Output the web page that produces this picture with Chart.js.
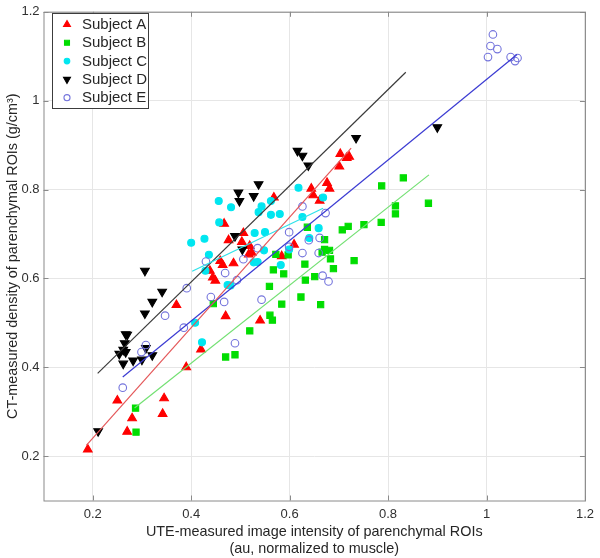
<!DOCTYPE html>
<html lang="en">
<head>
  <meta charset="UTF-8" />
  <title>CT density vs UTE intensity</title>
  <script src="https://cdn.jsdelivr.net/npm/chart.js"></script>
  <style>
    html, body { margin: 0; padding: 0; background: #fff; }
    #wrap { width: 600px; height: 558px; position: relative; }
  </style>
</head>
<body>
  <div id="wrap"><canvas id="grafico"></canvas></div>

  <script>
    // === DATA ===
    const subjectNames = ["Subject A", "Subject B", "Subject C", "Subject D", "Subject E"];
    const xTicks = [0.2, 0.4, 0.6, 0.8, 1, 1.2];
    const yTicks = [0.2, 0.4, 0.6, 0.8, 1, 1.2];

    const subjectA = [
      [0.19, 0.215], [0.25, 0.325], [0.27, 0.255], [0.28, 0.285], [0.345, 0.33], [0.342, 0.295],
      [0.39, 0.40], [0.42, 0.44], [0.37, 0.54], [0.47, 0.515], [0.54, 0.505], [0.438, 0.617],
      [0.444, 0.602], [0.449, 0.595], [0.459, 0.639], [0.464, 0.63], [0.486, 0.634], [0.467, 0.723],
      [0.476, 0.686], [0.506, 0.702], [0.503, 0.682], [0.519, 0.673], [0.523, 0.658], [0.517, 0.654],
      [0.568, 0.782], [0.584, 0.65], [0.609, 0.676], [0.644, 0.802], [0.648, 0.787], [0.661, 0.775],
      [0.676, 0.815], [0.681, 0.802], [0.703, 0.88], [0.701, 0.852], [0.721, 0.874], [0.716, 0.871]
    ];
    const subjectB = [
      [0.287, 0.308], [0.288, 0.254], [0.47, 0.423], [0.489, 0.428], [0.519, 0.482], [0.56, 0.517],
      [0.565, 0.506], [0.584, 0.542], [0.559, 0.582], [0.567, 0.619], [0.588, 0.61], [0.623, 0.558],
      [0.632, 0.596], [0.651, 0.604], [0.663, 0.541], [0.689, 0.622], [0.631, 0.632], [0.445, 0.543],
      [0.787, 0.808], [0.831, 0.826], [0.882, 0.769], [0.815, 0.763], [0.815, 0.745], [0.786, 0.726],
      [0.751, 0.721], [0.719, 0.717], [0.707, 0.709], [0.731, 0.64], [0.683, 0.644], [0.681, 0.663],
      [0.671, 0.665], [0.666, 0.659], [0.671, 0.687], [0.636, 0.715], [0.572, 0.654], [0.597, 0.653]
    ];
    const subjectC = [
      [0.422, 0.456], [0.408, 0.5], [0.474, 0.585], [0.48, 0.584], [0.527, 0.636], [0.535, 0.637],
      [0.582, 0.63], [0.456, 0.774], [0.481, 0.76], [0.457, 0.726], [0.427, 0.689], [0.4, 0.68],
      [0.436, 0.653], [0.429, 0.617], [0.529, 0.702], [0.55, 0.704], [0.548, 0.663], [0.562, 0.743],
      [0.58, 0.745], [0.537, 0.749], [0.543, 0.762], [0.562, 0.774], [0.618, 0.804], [0.626, 0.738],
      [0.659, 0.713], [0.668, 0.782], [0.64, 0.691], [0.599, 0.665]
    ];
    const subjectD = [
      [0.211, 0.256], [0.267, 0.474], [0.265, 0.454], [0.262, 0.439], [0.254, 0.43], [0.267, 0.434],
      [0.262, 0.408], [0.282, 0.415], [0.3, 0.417], [0.308, 0.443], [0.321, 0.427], [0.306, 0.617],
      [0.341, 0.57], [0.321, 0.547], [0.306, 0.521], [0.27, 0.473], [0.496, 0.793], [0.498, 0.774],
      [0.537, 0.812], [0.527, 0.785], [0.489, 0.695], [0.504, 0.665], [0.616, 0.887], [0.626, 0.876],
      [0.638, 0.854], [0.735, 0.916], [0.9, 0.94]
    ];
    const subjectE = [
      [0.261, 0.354], [0.299, 0.434], [0.308, 0.45], [0.489, 0.454], [0.347, 0.516], [0.385, 0.489],
      [0.391, 0.578], [0.44, 0.558], [0.467, 0.547], [0.543, 0.552], [0.493, 0.596], [0.469, 0.612],
      [0.43, 0.638], [0.506, 0.643], [0.535, 0.668], [0.599, 0.704], [0.626, 0.762], [0.673, 0.747],
      [0.661, 0.691], [0.639, 0.686], [0.626, 0.657], [0.659, 0.657], [0.667, 0.606], [0.679, 0.593],
      [0.599, 0.671], [1.013, 1.149], [1.008, 1.123], [1.022, 1.116], [1.003, 1.098], [1.049, 1.098],
      [1.063, 1.096], [1.058, 1.089]
    ];

    // fitted lines: end points
    const fitA = [[0.187, 0.224], [0.725, 0.893]];
    const fitB = [[0.285, 0.308], [0.883, 0.833]];
    const fitC = [[0.402, 0.616], [0.668, 0.758]];
    const fitD = [[0.21, 0.386], [0.836, 1.064]];
    const fitE = [[0.261, 0.378], [1.062, 1.104]];

    const toXY = arr => arr.map(p => ({ x: p[0], y: p[1] }));
    const FONT = "'Liberation Sans', Arial, sans-serif";

    const estilos = [
      { pts: subjectA, fit: fitA, style: "triangle", rot: 0, r: 5, fill: "#ff0000", stroke: "#ff0000", line: "#e4585a" },
      { pts: subjectB, fit: fitB, style: "rect", rot: 0, r: 4.4, fill: "#00dd00", stroke: "#00dd00", line: "#72e072" },
      { pts: subjectC, fit: fitC, style: "circle", rot: 0, r: 3.5, fill: "#00e6f0", stroke: "#00e6f0", line: "#2ee2ea" },
      { pts: subjectD, fit: fitD, style: "triangle", rot: 180, r: 5, fill: "#000000", stroke: "#000000", line: "#3a3a3a" },
      { pts: subjectE, fit: fitE, style: "circle", rot: 0, r: 3.8, fill: "rgba(0,0,0,0)", stroke: "#7474dc", line: "#3b3bd2" }
    ];

    const datasets = [];
    estilos.forEach((s, i) => {
      datasets.push({
        type: "scatter",
        label: subjectNames[i],
        data: toXY(s.pts),
        pointStyle: s.style,
        rotation: s.rot,
        pointRadius: s.r,
        pointHoverRadius: s.r,
        backgroundColor: s.fill,
        borderColor: s.stroke,
        borderWidth: 1.1,
        order: 10 - i
      });
      datasets.push({
        type: "line",
        label: subjectNames[i] + " fit",
        data: toXY(s.fit),
        borderColor: s.line,
        borderWidth: 1.2,
        pointRadius: 0,
        fill: false,
        order: 1
      });
    });

    // box, inward ticks and legend in the MATLAB style
    const matlabBox = {
      id: "matlabBox",
      afterDatasetsDraw(chart) {
        const { ctx, chartArea: a, scales } = chart;
        ctx.save();
        ctx.strokeStyle = "#8a8a8a";
        ctx.lineWidth = 1;
        ctx.strokeRect(a.left + 0.5, a.top + 0.5, a.right - a.left, a.bottom - a.top);
        ctx.beginPath();
        xTicks.forEach(t => {
          const x = Math.round(scales.x.getPixelForValue(t)) + 0.5;
          ctx.moveTo(x, a.bottom); ctx.lineTo(x, a.bottom - 5);
          ctx.moveTo(x, a.top); ctx.lineTo(x, a.top + 5);
        });
        yTicks.forEach(t => {
          const y = Math.round(scales.y.getPixelForValue(t)) + 0.5;
          ctx.moveTo(a.left, y); ctx.lineTo(a.left + 5, y);
          ctx.moveTo(a.right, y); ctx.lineTo(a.right - 5, y);
        });
        ctx.stroke();

        // legend
        const lx = 52.5, ly = 13.5, lw = 96, lh = 95;
        ctx.fillStyle = "#ffffff";
        ctx.fillRect(lx, ly, lw, lh);
        ctx.strokeStyle = "#3c3c3c";
        ctx.strokeRect(lx, ly, lw, lh);
        ctx.font = "15px " + FONT;
        ctx.textBaseline = "middle";
        estilos.forEach((s, i) => {
          const y = 24.5 + i * 18.3;
          ctx.fillStyle = s.fill;
          ctx.strokeStyle = s.stroke;
          ctx.lineWidth = 1.1;
          Chart.helpers.drawPoint(ctx, {
            pointStyle: s.style, rotation: s.rot, radius: s.r * 0.8, borderWidth: 1.1
          }, 67, y);
          ctx.fillStyle = "#262626";
          ctx.fillText(subjectNames[i], 82, y + 0.5);
        });
        ctx.restore();
      }
    };

    new Chart(document.getElementById("grafico"), {
      data: { datasets },
      plugins: [matlabBox],
      options: {
        responsive: true,
        maintainAspectRatio: false,
        animation: false,
        layout: { padding: { top: 5, right: 9, left: 0, bottom: 0 } },
        plugins: {
          legend: { display: false },
          tooltip: { enabled: false }
        },
        scales: {
          x: {
            type: "linear",
            min: 0.1,
            max: 1.2,
            afterBuildTicks: scale => { scale.ticks = xTicks.map(v => ({ value: v })); },
            afterFit: scale => { scale.height = 57.5; },
            grid: { color: "#e6e6e6", drawTicks: false },
            border: { display: false },
            ticks: {
              padding: 6,
              color: "#303030",
              font: { family: FONT, size: 13 },
              callback: v => String(v)
            },
            title: {
              display: true,
              text: ["UTE-measured image intensity of parenchymal ROIs", "(au, normalized to muscle)"],
              color: "#262626",
              font: { family: FONT, size: 14.4 },
              padding: { top: 2, bottom: 0 }
            }
          },
          y: {
            type: "linear",
            min: 0.1,
            max: 1.2,
            afterBuildTicks: scale => { scale.ticks = yTicks.map(v => ({ value: v })); },
            afterFit: scale => { scale.width = 43.5; },
            grid: { color: "#e6e6e6", drawTicks: false },
            border: { display: false },
            ticks: {
              padding: 4,
              color: "#303030",
              font: { family: FONT, size: 13 },
              callback: v => String(v)
            },
            title: {
              display: true,
              text: "CT-measured density of parenchymal ROIs (g/cm³)",
              color: "#262626",
              font: { family: FONT, size: 14.4 },
              padding: { top: 4, bottom: 0 }
            }
          }
        }
      }
    });
  </script>
</body>
</html>
